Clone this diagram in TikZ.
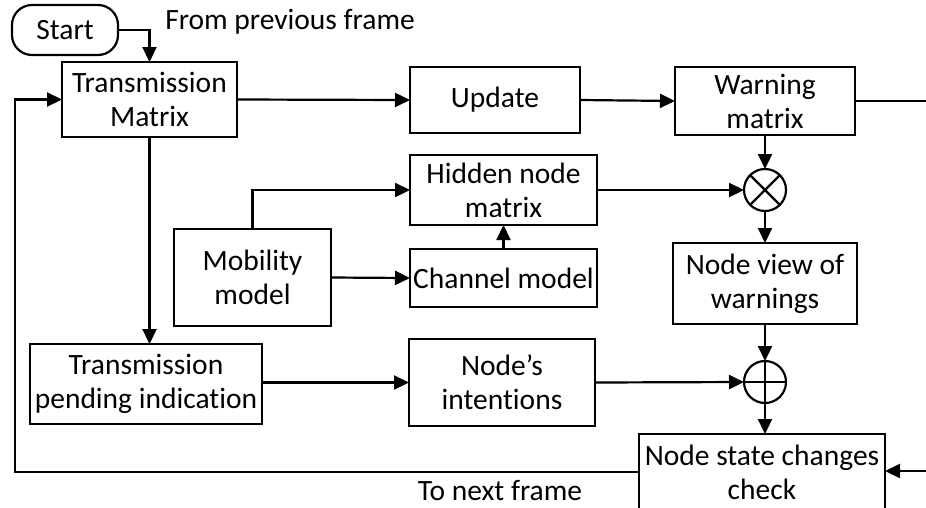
\documentclass[tikz,border=0pt]{standalone}
\usepackage{fontspec}
\setmainfont{Carlito}[Ligatures=NoCommon]
\usetikzlibrary{arrows.meta}
\begin{document}
\begin{tikzpicture}[x=1pt,y=-1pt,
  font=\fontsize{29.5}{34}\selectfont,
  every node/.style={inner sep=0pt, outer sep=0pt},
  box/.style={draw, line width=2.2pt, align=center},
  op/.style={draw, line width=2.2pt, circle, minimum size=42pt},
  conn/.style={line width=2.2pt},
  arr/.style={conn, -{Triangle[length=15pt,width=14pt]}}]
\useasboundingbox (0,0) rectangle (926,507);
\clip (0,0) rectangle (926,507);
\node[box, rounded corners=20pt, minimum width=106pt, minimum height=50pt] (start) at (65,30) {Start};
\node[box, minimum width=175pt, minimum height=75pt] (tm) at (149.5,99.5) {Transmission\\Matrix};
\node[box, minimum width=170pt, minimum height=66pt] (upd) at (495,100) {Update};
\node[box, minimum width=180pt, minimum height=68pt] (warn) at (765,101) {Warning\\matrix};
\node[op] (otimes) at (765,190) {};
\draw[conn] (otimes.north east) -- (otimes.south west) (otimes.north west) -- (otimes.south east);
\node[op] (oplus) at (765,382) {};
\draw[conn] (oplus.north) -- (oplus.south) (oplus.west) -- (oplus.east);
\node[box, minimum width=187pt, minimum height=70pt] (hid) at (503.5,190) {Hidden node\\matrix};
\node[box, minimum width=187pt, minimum height=58pt] (chan) at (503.5,278) {Channel model};
\node[box, minimum width=157pt, minimum height=97pt] (mob) at (252.5,277.5) {Mobility\\model};
\node[box, minimum width=184pt, minimum height=81pt] (nview) at (765,283.5) {Node view of\\warnings};
\node[box, minimum width=232pt, minimum height=80pt] (tpi) at (146,384) {Transmission\\pending indication};
\node[box, minimum width=186pt, minimum height=87pt] (nint) at (502,382.5) {Node’s\\intentions};
\node[box, minimum width=246pt, minimum height=76pt] (nscc) at (762,472) {Node state changes\\check};
\node (from) at (290,22) {From previous frame};
\node (tonext) at (500,490) {To next frame};
\coordinate (rout) at (926,101);
\coordinate (rin) at (926,471);
\coordinate (lft) at (15,472);
\draw[arr] (start.east) -| (tm.north);
\draw[arr] (tm.east) -- (upd.west);
\draw[arr] (upd.east) -- (warn.west);
\draw[conn] (warn.east) -- (rout);
\draw[arr] (warn.south) -- (otimes.north);
\draw[arr] (hid.east) -- (otimes.west);
\draw[arr] (otimes.south) -- (nview.north);
\draw[arr] (nview.south) -- (oplus.north);
\draw[arr] (oplus.south) -- (oplus.south |- nscc.north);
\draw[arr] (nint.east) -- (oplus.west);
\draw[arr] (tpi.east |- nint.west) -- (nint.west);
\draw[arr] (tm.south) -- (tm.south |- tpi.north);
\draw[arr] (mob.north) |- (hid.west);
\draw[arr] (mob.east) -- (chan.west);
\draw[arr] (chan.north) -- (hid.south);
\draw[arr] (rin) -- (nscc.east |- rin);
\draw[arr] (nscc.west |- lft) -- (lft) |- (tm.west);
\end{tikzpicture}
\end{document}
